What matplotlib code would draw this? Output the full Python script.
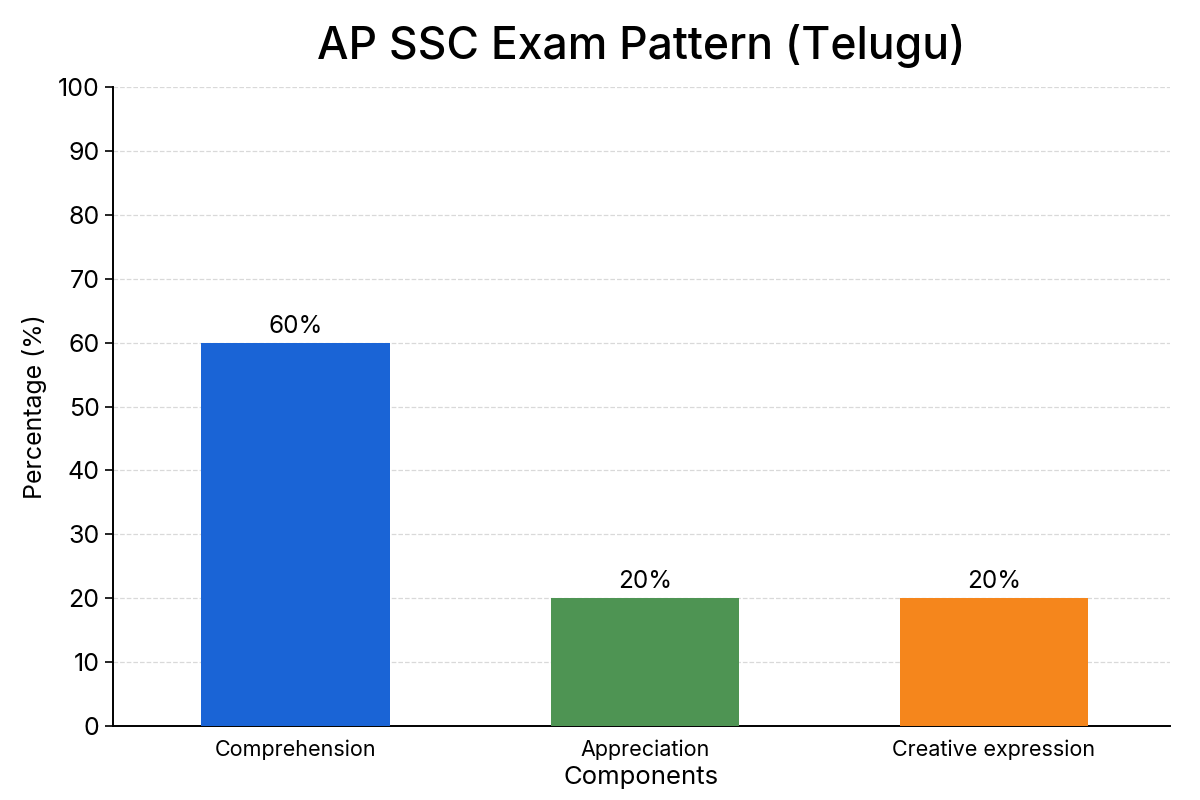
import matplotlib.pyplot as plt

# ---------------- DATA ----------------
components = ["Comprehension", "Appreciation", "Creative expression"]
percentages = [60, 20, 20]
colors = ["#1a64d6", "#4e9453", "#f5861c"]

plt.rcParams["font.family"] = ["Inter", "DejaVu Sans"]

fig = plt.figure(figsize=(12, 8), dpi=100)
ax = fig.add_axes([0.094, 0.0925, 0.881, 0.7985])

bars = ax.bar(range(len(components)), percentages, width=0.54, color=colors, zorder=3)

for bar, val in zip(bars, percentages):
    ax.text(bar.get_x() + bar.get_width() / 2, val + 0.8, f"{val}%",
            ha="center", va="bottom", fontsize=17.5, zorder=4)

ax.set_xlim(-0.524, 2.504)
ax.set_ylim(0, 100)
ax.set_yticks(range(0, 101, 10))
ax.set_xticks(range(len(components)))
ax.set_xticklabels(components, fontsize=15.5)
ax.tick_params(axis="y", labelsize=18, length=6, width=1.2)
ax.tick_params(axis="x", length=0, pad=10)

ax.grid(axis="y", linestyle="--", color="#d9d9d9", linewidth=0.9, zorder=0)
ax.spines["top"].set_visible(False)
ax.spines["right"].set_visible(False)
ax.spines["left"].set_linewidth(1.4)
ax.spines["bottom"].set_linewidth(1.4)

ax.set_title("AP SSC Exam Pattern (Telugu)", fontsize=32, fontweight="medium", pad=20)
ax.set_xlabel("Components", fontsize=18.5, labelpad=4)
ax.set_ylabel("Percentage (%)", fontsize=18, labelpad=8)

fig.savefig("out.png", dpi=100)
